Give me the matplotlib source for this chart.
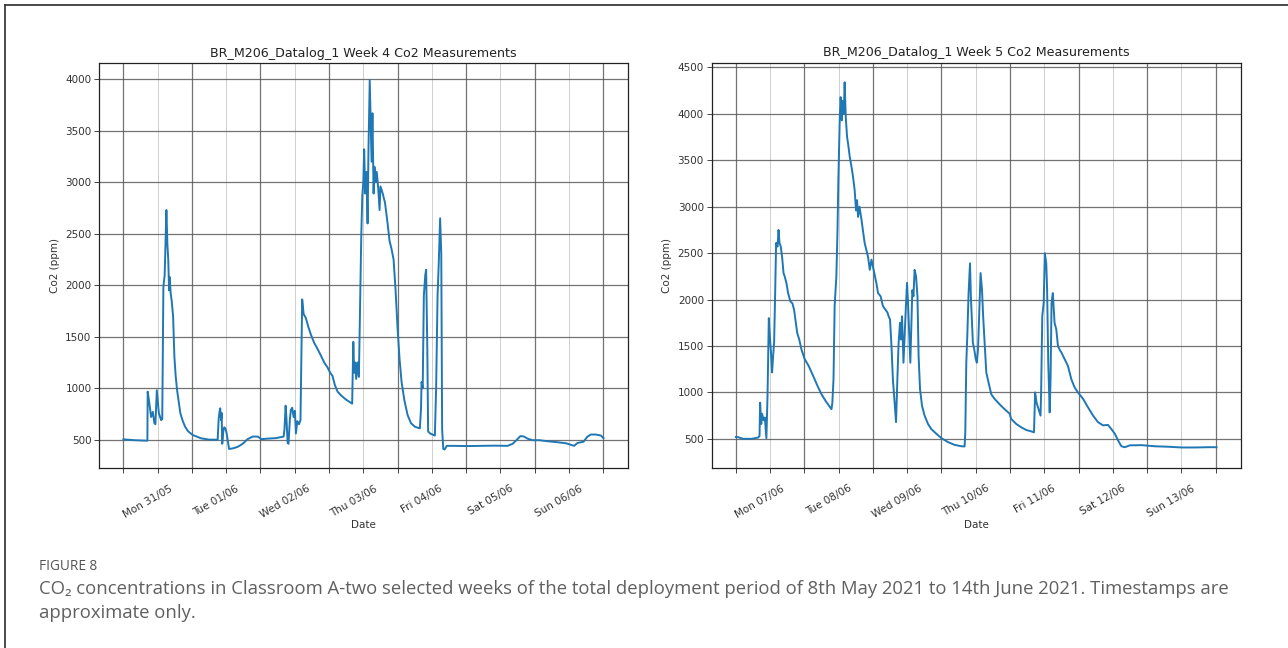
import numpy as np
import pandas as pd
import matplotlib
matplotlib.use("Agg")
import matplotlib.pyplot as plt
import matplotlib.dates as mdates
import matplotlib.ticker as mticker
import matplotlib.transforms as mtrans
from matplotlib.lines import Line2D

# ---------------- data ----------------
week4_start = "2021-05-31"
week4_hours = [0.0, 3.85, 8.4, 8.5, 9.1, 9.7, 10.3, 10.85, 11.2, 11.7, 12.4, 13.2, 13.6, 14.0,
               14.45, 14.8, 15.05, 15.4, 15.7, 16.0, 16.2, 16.55, 16.9, 17.4, 17.85, 18.3, 18.8,
               19.4, 19.95, 20.8, 21.6, 22.7, 24.3, 27.2, 30.1, 33.0, 33.35, 33.7, 33.9, 34.2,
               34.4, 34.6, 35.0, 35.3, 35.7, 36.15, 36.5, 37.0, 38.25, 40.0, 41.75, 43.5, 45.25,
               47.0, 48.4, 50.5, 53.4, 56.1, 56.4, 56.8, 57.1, 57.5, 57.8, 58.3, 58.65, 59.1,
               59.6, 60.05, 60.4, 60.9, 61.5, 62.0, 62.4, 62.6, 63.1, 63.9, 64.7, 65.65, 66.8,
               68.0, 69.1, 70.3, 71.5, 72.4, 73.2, 74.05, 75.0, 76.2, 77.9, 80.1, 80.5, 80.8,
               81.2, 81.5, 82.0, 82.45, 82.8, 83.3, 83.65, 84.0, 84.3, 84.65, 85.1, 85.5, 85.8,
               86.25, 86.9, 87.2, 87.6, 87.9, 88.3, 88.7, 89.2, 89.7, 90.0, 90.7, 91.6, 92.5,
               93.2, 93.9, 94.6, 95.3, 96.0, 96.7, 97.4, 98.4, 99.5, 100.7, 102.1, 103.8, 104.2,
               104.4, 104.8, 105.2, 105.7, 106.0, 106.4, 106.7, 107.4, 108.2, 109.05, 109.5,
               110.0, 110.4, 110.9, 111.3, 111.6, 112.0, 112.5, 113.2, 115.8, 120.5, 125.1,
               129.8, 134.5, 136.3, 137.8, 139.0, 140.3, 141.5, 143.3, 145.6, 148.5, 152.0,
               155.0, 157.8, 159.0, 161.1, 162.5, 163.7, 165.4, 167.2, 168.1]
week4_ppm = [503, 495, 490, 966, 850, 720, 770, 660, 650, 980, 760, 690, 700, 1985,
             2100, 2450, 2730, 2400, 2250, 1950, 2080, 1920, 1850, 1700, 1305, 1120, 980,
             860, 755, 680, 626, 580, 545, 513, 500, 500, 700, 780, 805, 690,
             760, 460, 590, 620, 610, 560, 497, 410, 415, 430, 460, 505, 530,
             530, 505, 510, 515, 530, 600, 830, 700, 470, 460, 700, 790, 810,
             720, 780, 560, 680, 650, 690, 1500, 1862, 1720, 1680, 1600, 1520, 1440,
             1380, 1320, 1250, 1200, 1150, 1120, 1030, 966, 930, 890, 850, 1450, 1150,
             1250, 1090, 1250, 1110, 1700, 2500, 2870, 3000, 3320, 2890, 3100, 2600, 3300,
             3990, 3200, 3670, 2890, 3150, 3000, 3100, 2950, 2730, 2960, 2900, 2800, 2600,
             2430, 2350, 2250, 1950, 1580, 1280, 1060, 880, 740, 660, 625, 610, 800,
             1060, 1000, 1900, 2100, 2150, 1400, 580, 560, 550, 540, 1000,
             1900, 2200, 2650, 2300, 600, 410, 405, 440, 440, 438, 440,
             442, 440, 460, 500, 535, 530, 510, 495, 495, 485, 475,
             465, 440, 468, 480, 530, 550, 550, 540, 515]

week5_start = "2021-06-07"
week5_hours = [0.0, 0.8, 2.6, 5.5, 7.8, 8.3, 8.5, 8.9, 9.2, 9.7, 10.15, 10.7, 11.1, 11.55,
               11.9, 12.25, 12.7, 13.05, 13.4, 13.75, 14.1, 14.6, 14.95, 15.3, 15.75, 16.2,
               16.7, 17.1, 17.7, 18.3, 19.1, 19.8, 20.4, 21.0, 21.5, 22.2, 23.0, 24.1, 25.5,
               27.05, 28.6, 30.0, 31.4, 32.65, 33.5, 33.8, 34.2, 34.6, 35.2, 35.6, 35.9, 36.4,
               36.7, 37.1, 37.4, 37.8, 38.1, 38.5, 38.95, 39.3, 39.9, 40.5, 41.05, 41.6, 42.1,
               42.45, 42.8, 43.3, 44.0, 44.5, 45.1, 45.7, 46.3, 46.9, 47.5, 49.2, 49.8, 50.7,
               51.5, 52.4, 53.1, 53.5, 54.0, 54.5, 55.0, 55.6, 56.1, 56.6, 57.0, 57.5, 57.8,
               58.2, 58.7, 59.1, 59.5, 59.95, 60.3, 60.6, 61.1, 61.5, 61.8, 62.2, 62.6, 63.1,
               63.6, 64.0, 64.5, 65.2, 66.1, 67.3, 68.45, 70.2, 72.0, 74.3, 76.6, 79.0, 80.1,
               80.35, 80.7, 81.05, 81.5, 82.0, 82.3, 82.7, 83.0, 83.5, 84.0, 84.4, 84.8,
               85.25, 85.7, 86.2, 86.6, 87.1, 87.7, 88.5, 89.45, 90.6, 91.8, 92.9, 94.1, 95.9,
               96.4, 98.2, 99.9, 101.7, 103.5, 104.4, 104.8, 105.3, 106.0, 106.7, 106.9, 107.3,
               107.8, 108.2, 108.7, 109.0, 109.4, 109.9, 110.2, 110.55, 111.0, 111.6, 112.2,
               112.8, 113.4, 114.0, 115.1, 116.3, 117.5, 118.6, 119.8, 121.6, 123.3, 125.1,
               126.8, 128.6, 130.3, 131.5, 132.7, 133.9, 135.0, 136.2, 138.0, 142.1, 146.7,
               151.4, 156.1, 160.7, 165.4, 168.3]
week5_ppm = [520, 518, 500, 500, 514, 530, 890, 660, 770, 700, 730, 507, 965, 1800,
             1610, 1460, 1215, 1390, 1535, 2035, 2610, 2570, 2750, 2610, 2570, 2460,
             2285, 2250, 2180, 2070, 1980, 1960, 1890, 1750, 1640, 1570, 1460, 1360, 1285,
             1180, 1070, 980, 910, 855, 820, 890, 1140, 1930, 2250, 2750, 3285, 3960,
             4180, 3930, 4140, 4000, 4340, 3960, 3750, 3680, 3535, 3430, 3320, 3180, 2960,
             3070, 2890, 3000, 2860, 2750, 2610, 2535, 2460, 2320, 2430, 2180, 2070, 2035,
             1930, 1890, 1860, 1820, 1785, 1500, 1140, 890, 680, 1180, 1535, 1750, 1570,
             1820, 1320, 1610, 1890, 2180, 1960, 1715, 1320, 1785, 2100, 2035, 2320, 2250,
             2035, 1390, 1035, 855, 750, 660, 605, 555, 507, 465, 435, 420, 418,
             570, 1320, 1610, 2070, 2390, 2035, 1750, 1535, 1460, 1360, 1320, 1460,
             1860, 2285, 2105, 1820, 1535, 1215, 1105, 980, 930, 890, 855, 820, 770,
             715, 660, 625, 595, 580, 570, 1000, 890, 820, 750, 1000, 1820,
             1965, 2500, 2390, 2105, 1320, 785, 1140, 1965, 2070, 1750, 1680,
             1500, 1460, 1430, 1360, 1285, 1140, 1055, 1000, 930, 840, 750,
             680, 645, 650, 605, 555, 480, 420, 410, 430, 432, 420,
             415, 407, 407, 410, 410]

titles = ["BR_M206_Datalog_1 Week 4 Co2 Measurements",
          "BR_M206_Datalog_1 Week 5 Co2 Measurements"]
y_label = "Co2 (ppm)"
x_label = "Date"
date_fmt = "%a %d/%m"
ylims = [(222, 4155), (186, 4553)]

caption_head = "FIGURE 8"
caption_line1 = ("CO\u2082 concentrations in Classroom A-two selected weeks of the total deployment "
                 "period of 8th May 2021 to 14th June 2021. Timestamps are")
caption_line2 = "approximate only."

# ---------------- figure ----------------
W, H = 1288, 648
fig = plt.figure(figsize=(W / 100, H / 100), dpi=100)
fig.patch.set_facecolor("white")


def fx(px):
    return px / W


def fy(py):
    return 1 - py / H


ax_boxes = [(99.4, 63.3, 627.5, 468.3), (711.8, 62.5, 1240.5, 468.0)]
series = [(week4_start, week4_hours, week4_ppm), (week5_start, week5_hours, week5_ppm)]

LINE_BLUE = "#1f77b4"
axes = []
for (l, t, r, b), (start, hrs, ppm), title, ylim in zip(ax_boxes, series, titles, ylims):
    ax = fig.add_axes([fx(l), fy(b), fx(r) - fx(l), fy(t) - fy(b)])
    times = pd.Timestamp(start) + pd.to_timedelta(np.array(hrs), unit="h")
    ax.plot(times, ppm, color=LINE_BLUE, lw=1.4, zorder=3)
    ax.set_ylim(*ylim)
    ax.yaxis.set_major_locator(mticker.MultipleLocator(500))
    ax.xaxis.set_major_locator(mdates.DayLocator())
    ax.xaxis.set_minor_locator(mdates.HourLocator(byhour=[12]))
    ax.xaxis.set_major_formatter(mticker.NullFormatter())
    ax.xaxis.set_minor_formatter(mdates.DateFormatter(date_fmt))
    ax.grid(which="major", color="#5a5a5a", lw=0.9, alpha=0.85)
    ax.grid(which="minor", axis="x", color="#cfcfcf", lw=0.7)
    ax.set_axisbelow(True)
    for s in ax.spines.values():
        s.set_color("#222222")
        s.set_linewidth(0.9)
    ax.tick_params(axis="both", which="both", length=3.5, width=0.7, color="#444444",
                   labelsize=7.5, labelcolor="#333333")
    ax.tick_params(axis="y", pad=2.2)
    ax.tick_params(axis="x", which="minor", pad=7.5, labelrotation=30)
    ax.set_title(title, fontsize=9.05, color="#222222", pad=4.5)
    ax.set_ylabel(y_label, fontsize=7.5, color="#333333", labelpad=4)
    ax.set_xlabel(x_label, fontsize=7.5, color="#333333", labelpad=0)
    axes.append(ax)

fig.canvas.draw()
offset = mtrans.ScaledTranslation(-10 / 100, 0, fig.dpi_scale_trans)
for ax in axes:
    for tk in ax.xaxis.get_minor_ticks():
        tk.label1.set_horizontalalignment("center")
        tk.label1.set_transform(tk.label1.get_transform() + offset)

# frame lines (top and left)
fig.add_artist(Line2D([fx(5), 1.0], [fy(5), fy(5)], transform=fig.transFigure,
                      color="#3c3c3c", lw=1.3))
fig.add_artist(Line2D([fx(5), fx(5)], [fy(5), 0.0], transform=fig.transFigure,
                      color="#3c3c3c", lw=1.3))

cap_fam = ["Open Sans", "DejaVu Sans"]
fig.text(fx(39), fy(567), caption_head, ha="left", va="center", fontsize=9.8,
         color="#555555", family=cap_fam)
t1 = fig.text(fx(39), fy(589), caption_line1, ha="left", va="center", fontsize=12,
              color="#606060", family=cap_fam)
fig.canvas.draw()
w1 = t1.get_window_extent().width
t1.set_fontsize(12 * (1182 / w1))
fig.text(fx(39), fy(613), caption_line2, ha="left", va="center", fontsize=t1.get_fontsize(),
         color="#606060", family=cap_fam)

fig.savefig("out.png", dpi=100, facecolor="white")
